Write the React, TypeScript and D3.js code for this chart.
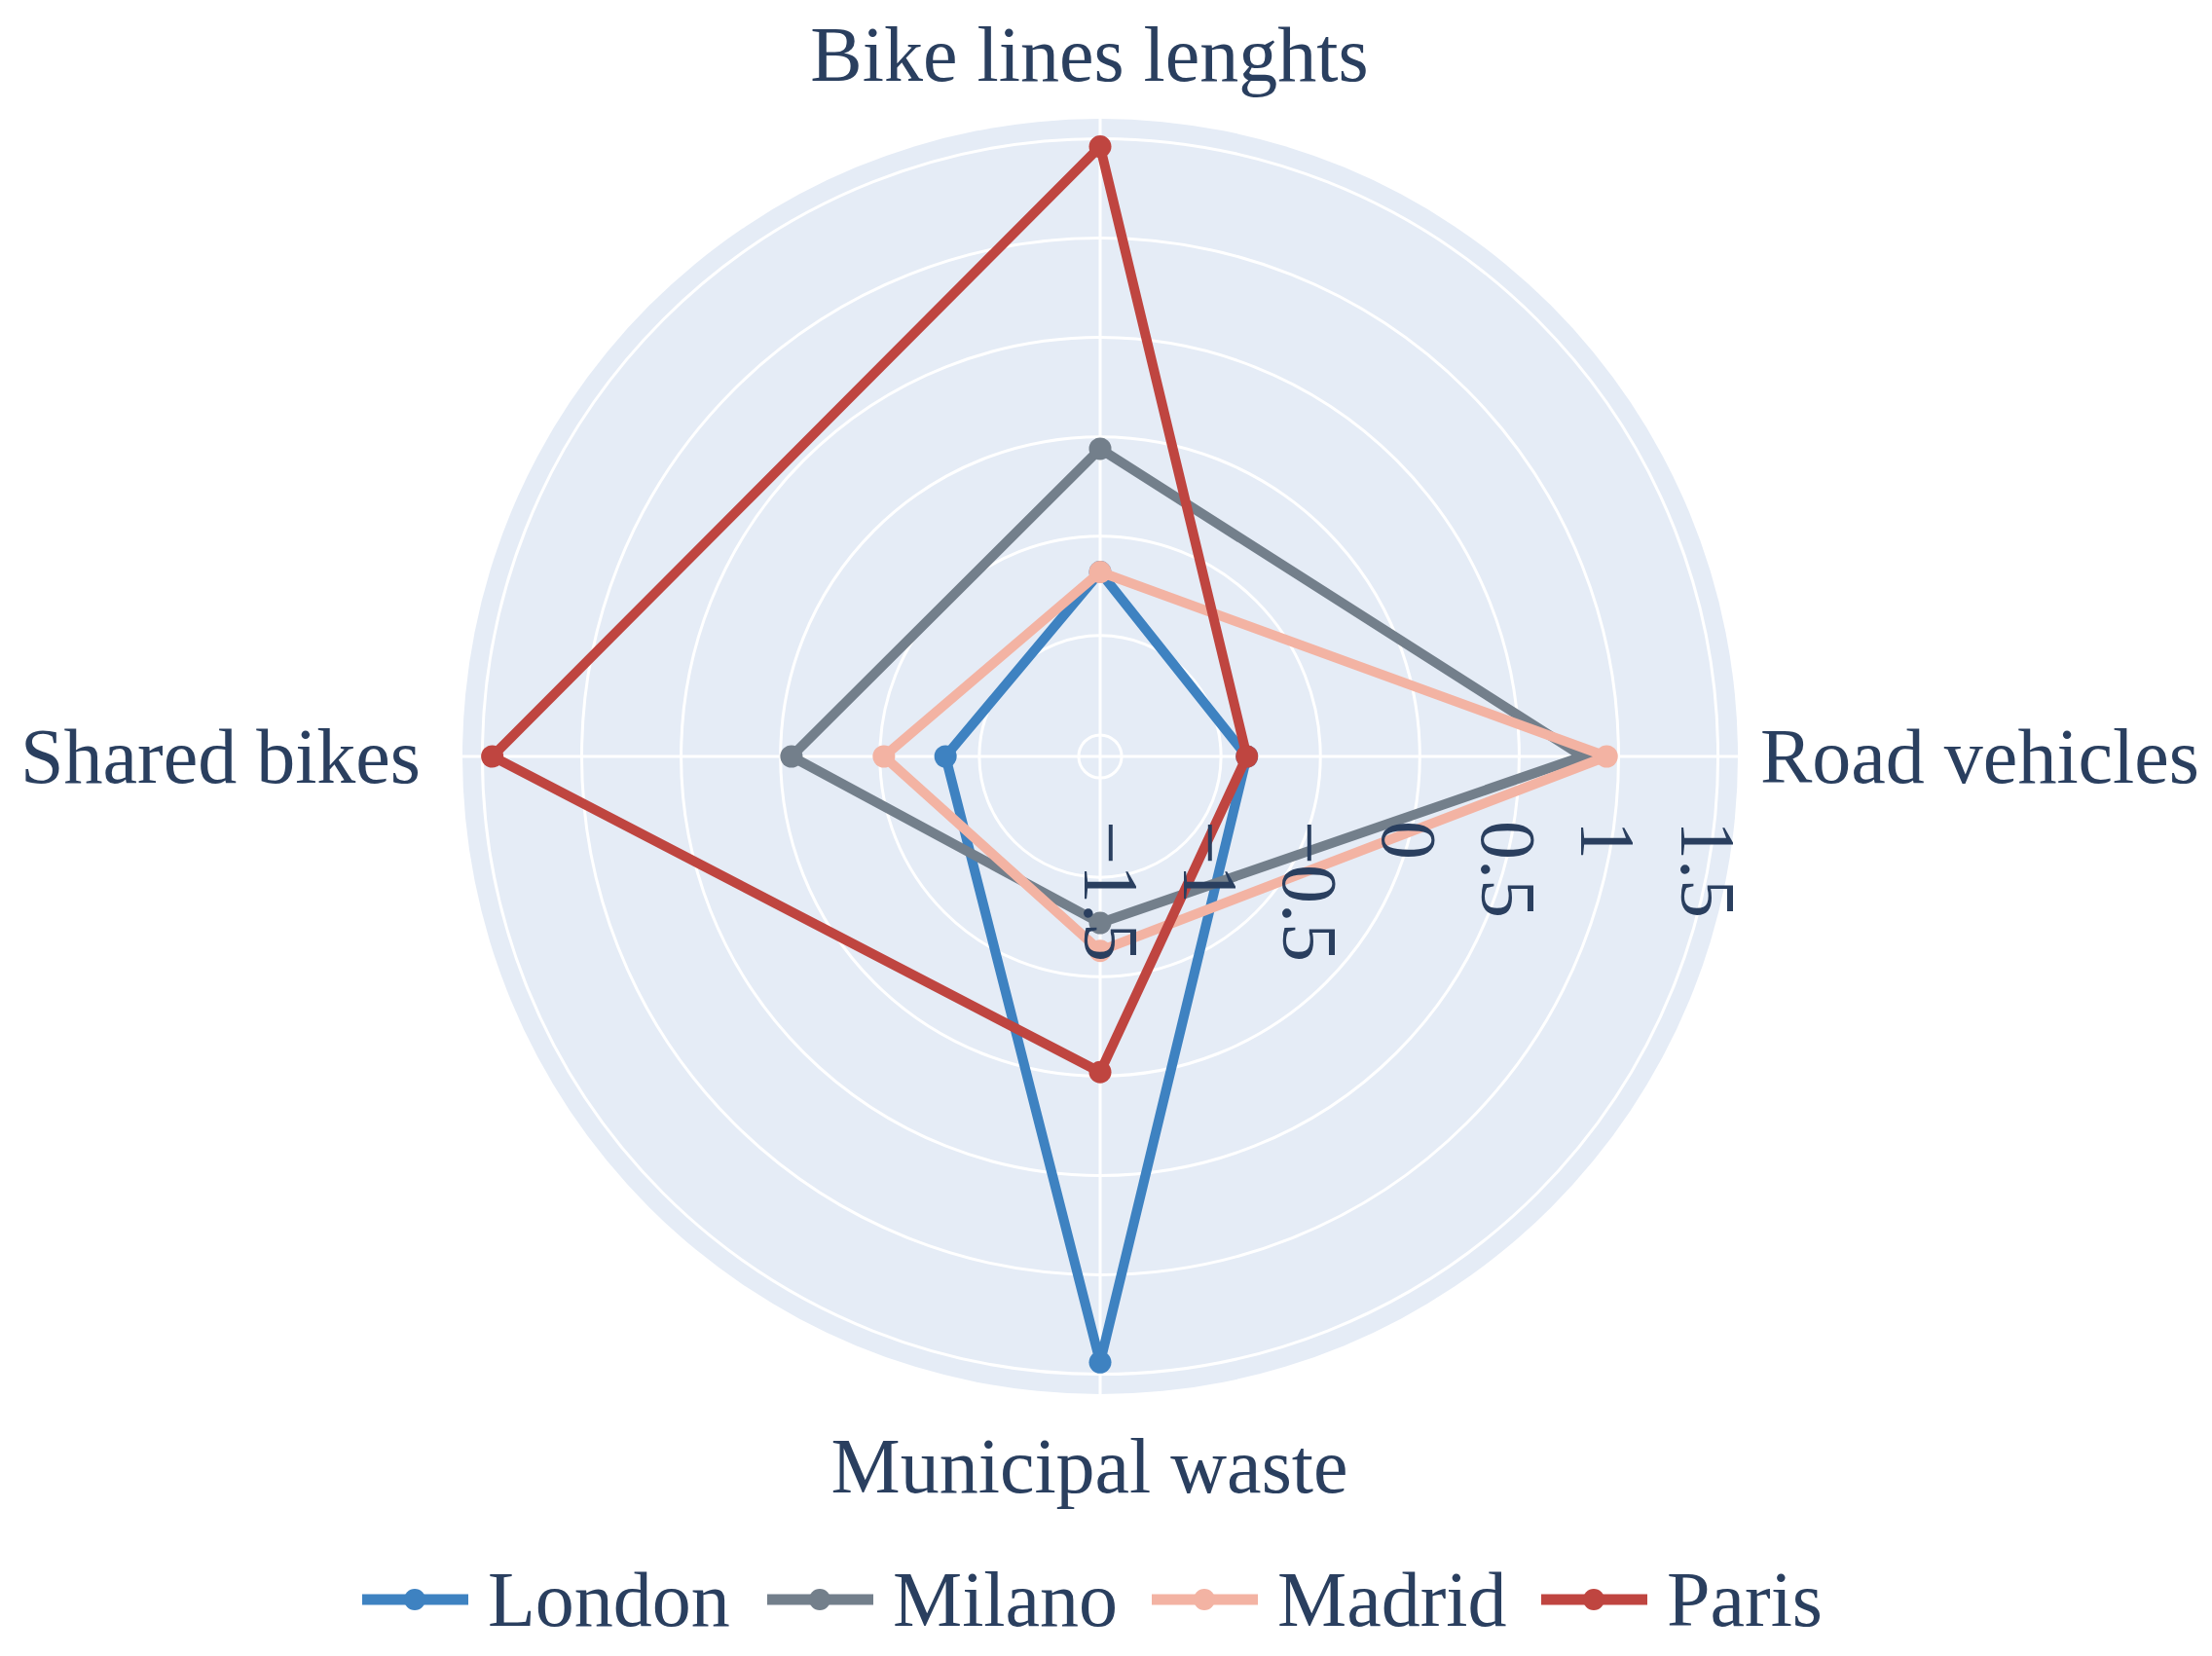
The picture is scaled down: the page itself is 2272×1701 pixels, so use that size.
import React, { useEffect, useRef } from 'react';
import * as d3 from 'd3';

const categories = ['Road vehicles', 'Bike lines lenghts', 'Shared bikes', 'Municipal waste'];
const cities = ['London', 'Milano', 'Madrid', 'Paris'];
const londonValues = [-0.87, -0.68, -0.83, 1.44];
const milanoValues = [0.82, -0.06, -0.055, -0.77];
const madridValues = [0.94, -0.68, -0.52, -0.63];
const parisValues = [-0.87, 1.46, 1.45, -0.02];
const radialTicks = [-1.5, -1, -0.5, 0, 0.5, 1, 1.5];
const cityColors = ['#3e82c1', '#737f8b', '#f3b3a3', '#bf4540'];

const App = () => {
  const chartRef = useRef<SVGSVGElement>(null);

  useEffect(() => {
    const width = 2272;
    const height = 1701;
    const cx = 1130;
    const cy = 777;
    const outerR = 655;
    const textColor = '#2a3f5f';
    const font = '"Liberation Serif", "Times New Roman", serif';

    const svg = d3.select(chartRef.current);
    svg.selectAll('*').remove();
    svg.attr('width', width).attr('height', height);

    const r = d3.scaleLinear().domain([-1.608, 1.6]).range([0, outerR]);
    // plotly: counterclockwise from the right; d3 lineRadial: clockwise from the top
    const angle = (i: number) => Math.PI / 2 - (i * 2 * Math.PI) / categories.length;

    const g = svg.append('g').attr('transform', `translate(${cx},${cy})`);

    g.append('circle').attr('r', outerR).attr('fill', '#e5ecf6');

    // radial grid circles
    g.selectAll('circle.grid')
      .data(radialTicks)
      .enter()
      .append('circle')
      .attr('class', 'grid')
      .attr('r', d => r(d))
      .attr('fill', 'none')
      .attr('stroke', '#fff')
      .attr('stroke-width', 3);

    // angular grid lines
    g.selectAll('line.spoke')
      .data(categories)
      .enter()
      .append('line')
      .attr('class', 'spoke')
      .attr('x1', 0)
      .attr('y1', 0)
      .attr('x2', (d, i) => outerR * Math.sin(angle(i)))
      .attr('y2', (d, i) => -outerR * Math.cos(angle(i)))
      .attr('stroke', '#fff')
      .attr('stroke-width', 3);

    const seriesValues = [londonValues, milanoValues, madridValues, parisValues];

    const line = d3.lineRadial<number>()
      .angle((d, i) => angle(i))
      .radius(d => r(d))
      .curve(d3.curveLinearClosed);

    seriesValues.forEach((vals, s) => {
      g.append('path')
        .attr('d', line(vals))
        .attr('fill', 'none')
        .attr('stroke', cityColors[s])
        .attr('stroke-width', 10)
        .attr('stroke-linejoin', 'round');

      g.selectAll(`circle.pt${s}`)
        .data(vals)
        .enter()
        .append('circle')
        .attr('class', `pt${s}`)
        .attr('cx', (d, i) => r(d) * Math.sin(angle(i)))
        .attr('cy', (d, i) => -r(d) * Math.cos(angle(i)))
        .attr('r', 11.5)
        .attr('fill', cityColors[s]);
    });

    // radial tick labels, rotated along the axis
    g.selectAll('text.tick')
      .data(radialTicks)
      .enter()
      .append('text')
      .attr('class', 'tick')
      .attr('transform', d => `translate(${r(d)},66) rotate(90)`)
      .attr('y', 38)
      .attr('font-family', font)
      .attr('font-size', 80)
      .attr('fill', textColor)
      .text(d => d3.format('')(d).replace('-', '\u2212'));

    // angular labels
    const labelPos = [
      { x: outerR + 23, y: 27, anchor: 'start' },
      { x: -11, y: -outerR - 39, anchor: 'middle' },
      { x: -outerR - 43, y: 27, anchor: 'end' },
      { x: -11, y: outerR + 101, anchor: 'middle' },
    ];
    categories.forEach((c, i) => {
      g.append('text')
        .attr('x', labelPos[i].x)
        .attr('y', labelPos[i].y)
        .attr('text-anchor', labelPos[i].anchor)
        .attr('font-family', font)
        .attr('font-size', 80)
        .attr('fill', textColor)
        .text(c);
    });

    // legend
    const legendX = [372, 788, 1183, 1583];
    const legendY = 1643;
    cities.forEach((c, i) => {
      const lg = svg.append('g').attr('transform', `translate(${legendX[i]},${legendY})`);
      lg.append('line')
        .attr('x1', 0)
        .attr('x2', 109)
        .attr('stroke', cityColors[i])
        .attr('stroke-width', 11);
      lg.append('circle').attr('cx', 54).attr('r', 11).attr('fill', cityColors[i]);
      lg.append('text')
        .attr('x', 129)
        .attr('y', 27)
        .attr('font-family', font)
        .attr('font-size', 80)
        .attr('fill', textColor)
        .text(c);
    });
  }, []);

  return (
    <svg
      ref={chartRef}
      style={{ position: 'absolute', left: 0, top: 0, background: '#fff' }}
    />
  );
};

export default App;
